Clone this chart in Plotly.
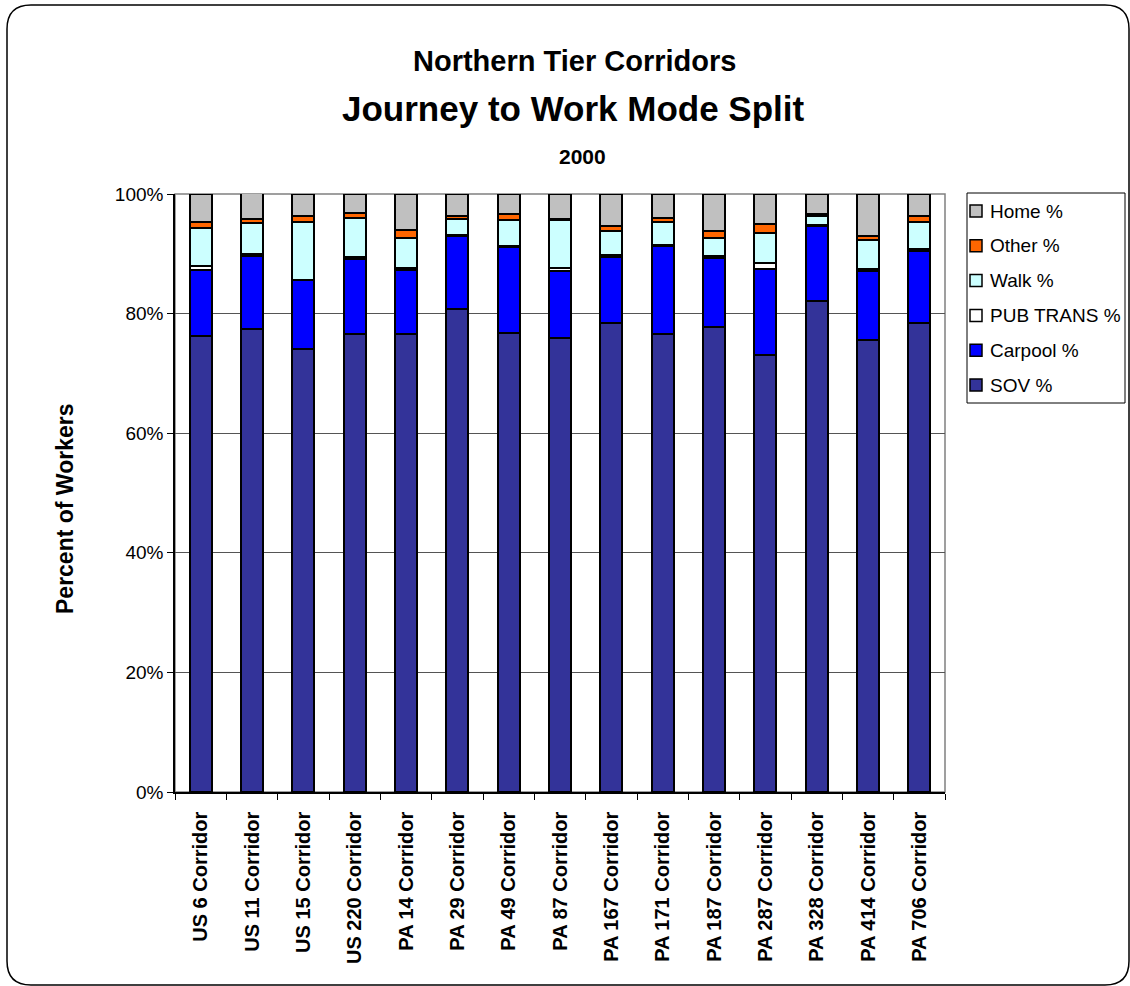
import plotly.graph_objects as go

# Corridor names (x categories)
corridors = [
    "US 6 Corridor", "US 11 Corridor", "US 15 Corridor", "US 220 Corridor",
    "PA 14 Corridor", "PA 29 Corridor", "PA 49 Corridor", "PA 87 Corridor",
    "PA 167 Corridor", "PA 171 Corridor", "PA 187 Corridor", "PA 287 Corridor",
    "PA 328 Corridor", "PA 414 Corridor", "PA 706 Corridor",
]

# Mode shares, percent of workers (2000)
sov_pct = [76.2, 77.5, 74.0, 76.6, 76.6, 80.8, 76.8, 75.9, 78.4, 76.6, 77.7, 73.1, 82.1, 75.6, 78.4]
carpool_pct = [11.1, 12.2, 11.6, 12.6, 10.7, 12.1, 14.3, 11.2, 11.1, 14.7, 11.6, 14.3, 12.6, 11.5, 12.1]
pubtrans_pct = [0.7, 0.2, 0.1, 0.3, 0.4, 0.3, 0.2, 0.5, 0.3, 0.2, 0.3, 1.1, 0.1, 0.3, 0.3]
walk_pct = [6.3, 5.2, 9.6, 6.5, 4.9, 2.6, 4.3, 8.0, 4.0, 3.9, 3.0, 5.0, 1.5, 4.9, 4.5]
other_pct = [1.0, 0.7, 1.0, 0.9, 1.3, 0.5, 1.0, 0.3, 0.9, 0.6, 1.2, 1.5, 0.3, 0.6, 1.0]
home_pct = [4.7, 4.3, 3.7, 3.1, 6.1, 3.7, 3.4, 4.1, 5.3, 4.0, 6.2, 5.0, 3.4, 7.1, 3.7]

y_ticks = [0, 20, 40, 60, 80, 100]
y_tick_labels = ["0%", "20%", "40%", "60%", "80%", "100%"]

series = [
    ("SOV %", sov_pct, "#333399"),
    ("Carpool %", carpool_pct, "#0000FF"),
    ("PUB TRANS %", pubtrans_pct, "#FFFFFF"),
    ("Walk %", walk_pct, "#CCFFFF"),
    ("Other %", other_pct, "#FF6600"),
    ("Home %", home_pct, "#C0C0C0"),
]

FONT = "Liberation Sans, Arial, sans-serif"
W, H = 1130, 986
ML, MR, MT, MB = 175, 185, 194, 194
PW, PH = W - ML - MR, H - MT - MB


def px_x(p):
    return (p - ML) / PW


def px_y(p):
    return (H - MB - p) / PH


fig = go.Figure()
for name, vals, color in series:
    fig.add_trace(go.Bar(
        x=corridors, y=vals, name=name, showlegend=False,
        marker=dict(color=color, line=dict(color="#000000", width=2)),
    ))

# Rounded outer chart border
x0, y0, x1, y1, r = 7, 5, 1129, 985, 24
path = (
    f"M {px_x(x0 + r)},{px_y(y0)} L {px_x(x1 - r)},{px_y(y0)} "
    f"Q {px_x(x1)},{px_y(y0)} {px_x(x1)},{px_y(y0 + r)} "
    f"L {px_x(x1)},{px_y(y1 - r)} Q {px_x(x1)},{px_y(y1)} {px_x(x1 - r)},{px_y(y1)} "
    f"L {px_x(x0 + r)},{px_y(y1)} Q {px_x(x0)},{px_y(y1)} {px_x(x0)},{px_y(y1 - r)} "
    f"L {px_x(x0)},{px_y(y0 + r)} Q {px_x(x0)},{px_y(y0)} {px_x(x0 + r)},{px_y(y0)} Z"
)

shapes = [
    dict(type="path", xref="paper", yref="paper", path=path,
         line=dict(color="#000000", width=1.5), fillcolor="rgba(0,0,0,0)", layer="below"),
    dict(type="rect", xref="paper", yref="paper", x0=0, x1=1, y0=0, y1=1,
         line=dict(color="#808080", width=1.5), layer="below"),
]

annotations = [
    dict(text="<b>Northern Tier Corridors</b>", x=px_x(574), y=px_y(61), xref="paper", yref="paper",
         showarrow=False, font=dict(size=29, family=FONT, color="#000000"), xanchor="center", yanchor="middle"),
    dict(text="<b>Journey to Work Mode Split</b>", x=px_x(573), y=px_y(108), xref="paper", yref="paper",
         showarrow=False, font=dict(size=35, family=FONT, color="#000000"), xanchor="center", yanchor="middle"),
    dict(text="<b>2000</b>", x=px_x(582), y=px_y(157), xref="paper", yref="paper",
         showarrow=False, font=dict(size=21, family=FONT, color="#000000"), xanchor="center", yanchor="middle"),
    dict(text="<b>Percent of Workers</b>", x=px_x(65), y=px_y(509), xref="paper", yref="paper",
         showarrow=False, textangle=-90, font=dict(size=23, family=FONT, color="#000000"),
         xanchor="center", yanchor="middle"),
]

# Legend box drawn with shapes and text (top item = top of stack)
lg_left, lg_top, lg_right, lg_bottom = 967, 193, 1125, 403
shapes.append(dict(type="rect", xref="paper", yref="paper",
                   x0=px_x(lg_left), x1=px_x(lg_right), y0=px_y(lg_bottom), y1=px_y(lg_top),
                   line=dict(color="#000000", width=1), fillcolor="#FFFFFF"))
item_step = 34.8
for i, (name, _vals, color) in enumerate(reversed(series)):
    cy = 211 + i * item_step
    shapes.append(dict(type="rect", xref="paper", yref="paper",
                       x0=px_x(970), x1=px_x(982), y0=px_y(cy + 6), y1=px_y(cy - 6),
                       line=dict(color="#000000", width=1.5), fillcolor=color))
    annotations.append(dict(text=name, x=px_x(988), y=px_y(cy), xref="paper", yref="paper",
                            showarrow=False, xanchor="left", yanchor="middle",
                            font=dict(size=19, family=FONT, color="#000000")))

fig.update_layout(
    width=W, height=H,
    margin=dict(l=ML, r=MR, t=MT, b=MB, autoexpand=False),
    paper_bgcolor="#FFFFFF", plot_bgcolor="#FFFFFF",
    barmode="stack", bargap=0.577,
    font=dict(family=FONT, size=19, color="#000000"),
    showlegend=False,
    xaxis=dict(
        type="category", tickangle=-90,
        tickvals=corridors, ticktext=[f"<b>{c}</b>" for c in corridors],
        tickfont=dict(size=20, family=FONT, color="#000000"),
        ticks="outside", ticklen=6, tickcolor="#000000", tickson="boundaries",
        ticklabelstandoff=10,
        showline=True, linecolor="#000000", linewidth=1.5,
        showgrid=False,
    ),
    yaxis=dict(
        range=[0, 100], tickvals=y_ticks, ticktext=y_tick_labels,
        tickfont=dict(size=19, family=FONT, color="#000000"),
        ticks="outside", ticklen=6, tickcolor="#000000",
        showline=True, linecolor="#000000", linewidth=1.5,
        showgrid=True, gridcolor="#555555", gridwidth=1,
        zeroline=False,
    ),
    shapes=shapes,
    annotations=annotations,
)

fig.write_html("out.html")
